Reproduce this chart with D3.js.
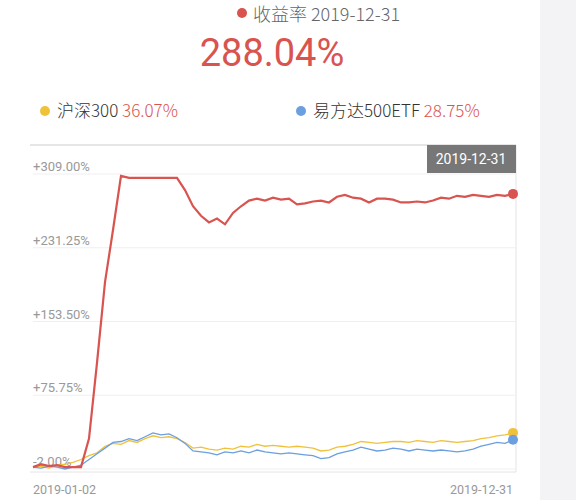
<!DOCTYPE html>
<html><head><meta charset="utf-8">
<script src="https://cdn.jsdelivr.net/npm/d3@7"></script>
<style>body{margin:0;background:#fff}svg{display:block;font-family:"Noto Sans CJK SC","Noto Sans",sans-serif}</style>
</head><body>
<svg id="c" width="576" height="500"></svg>
<script>
const yTicks=[309,231.25,153.5,75.75,-2];
const tickLabels=["+309.00%","+231.25%","+153.50%","+75.75%","-2.00%"];
const xLabels=["2019-01-02","2019-12-31"];
const fund=[0,3,1,2,0,0,0,30,110,195,250,307,305,305,305,305,305,305,305,292,275,265,258,262,256,268,275,281,283,281,284,282,283,277,278,280,281,279,285,287,284,283,279,283,283,282,279,279,280,279,281,284,283,286,285,287,286,285,287,286,288.04];
const hs300=[0,1,-1,2,3,5,8,12,15,22,25,24,28,26,30,33,31,32,30,26,20,21,19,18,20,19,22,21,24,22,23,22,21,22,21,20,17,18,21,22,24,27,26,25,26,27,27,26,28,27,26,28,27,26,27,28,30,31,33,34,36.07];
const zz500=[0,-1,1,0,-2,0,2,8,14,20,26,27,30,28,32,36,34,35,31,25,17,16,15,13,16,15,17,15,18,16,15,14,15,14,13,12,9,10,14,16,18,21,19,17,18,20,19,17,19,18,17,18,17,16,17,19,22,24,26,25,28.75];
const RED="#d9534f",YEL="#f0c23c",BLU="#6b9fe0";
const svg=d3.select("#c");
svg.append("rect").attr("x",540).attr("y",0).attr("width",36).attr("height",500).attr("fill","#f3f3f5");
svg.append("circle").attr("cx",242).attr("cy",13).attr("r",5).attr("fill",RED);
svg.append("text").attr("x",253).attr("y",21).attr("font-size",18).attr("font-weight",300).attr("fill","#666").text("收益率 2019-12-31");
svg.append("text").attr("x",272).attr("y",66).attr("text-anchor","middle").attr("font-size",38).attr("fill",RED).attr("font-family","Roboto,sans-serif").text("288.04%");
svg.append("circle").attr("cx",45).attr("cy",111).attr("r",5).attr("fill",YEL);
let t=svg.append("text").attr("x",57).attr("y",117).attr("font-size",17).attr("font-weight",300).attr("fill","#333");
t.append("tspan").text("沪深300 ");t.append("tspan").attr("fill",RED).text("36.07%");
svg.append("circle").attr("cx",301).attr("cy",111).attr("r",5).attr("fill",BLU);
t=svg.append("text").attr("x",313).attr("y",117).attr("font-size",17).attr("font-weight",300).attr("fill","#333");
t.append("tspan").text("易方达500ETF ");t.append("tspan").attr("fill",RED).text("28.75%");
const x=d3.scaleLinear().domain([0,fund.length-1]).range([33,513]);
const y=d3.scaleLinear().domain([-2,309]).range([469,174]);
svg.append("line").attr("x1",30).attr("x2",516).attr("y1",145).attr("y2",145).attr("stroke","#ccc");
svg.append("line").attr("x1",516).attr("x2",516).attr("y1",145).attr("y2",472).attr("stroke","#e4e4e4");
svg.append("line").attr("x1",30).attr("x2",516).attr("y1",472).attr("y2",472).attr("stroke","#e4e4e4");
yTicks.forEach((v,i)=>{
  svg.append("line").attr("x1",33).attr("x2",516).attr("y1",y(v)).attr("y2",y(v)).attr("stroke","#efefef");
  svg.append("text").attr("x",33).attr("y",y(v)-3).attr("font-size",13).attr("fill","#999").attr("font-family","Roboto,sans-serif").text(tickLabels[i]);
});
svg.append("text").attr("x",33).attr("y",494).attr("font-size",12.5).attr("fill","#999").attr("font-family","Roboto,sans-serif").text(xLabels[0]);
svg.append("text").attr("x",513).attr("y",494).attr("text-anchor","end").attr("font-size",12.5).attr("fill","#999").attr("font-family","Roboto,sans-serif").text(xLabels[1]);
const line=d3.line().x((d,i)=>x(i)).y(d=>y(d));
[[hs300,YEL],[zz500,BLU],[fund,RED]].forEach(([d,c])=>{
  svg.append("path").attr("d",line(d)).attr("fill","none").attr("stroke",c).attr("stroke-width",c===RED?2.2:1.3);
  svg.append("circle").attr("cx",x(d.length-1)).attr("cy",y(d[d.length-1])).attr("r",5).attr("fill",c);
});
svg.append("rect").attr("x",427).attr("y",145).attr("width",89).attr("height",28).attr("fill","#777");
svg.append("text").attr("x",471).attr("y",164).attr("text-anchor","middle").attr("font-size",14).attr("fill","#fff").attr("font-family","Roboto,sans-serif").text("2019-12-31");
</script>
</body></html>
